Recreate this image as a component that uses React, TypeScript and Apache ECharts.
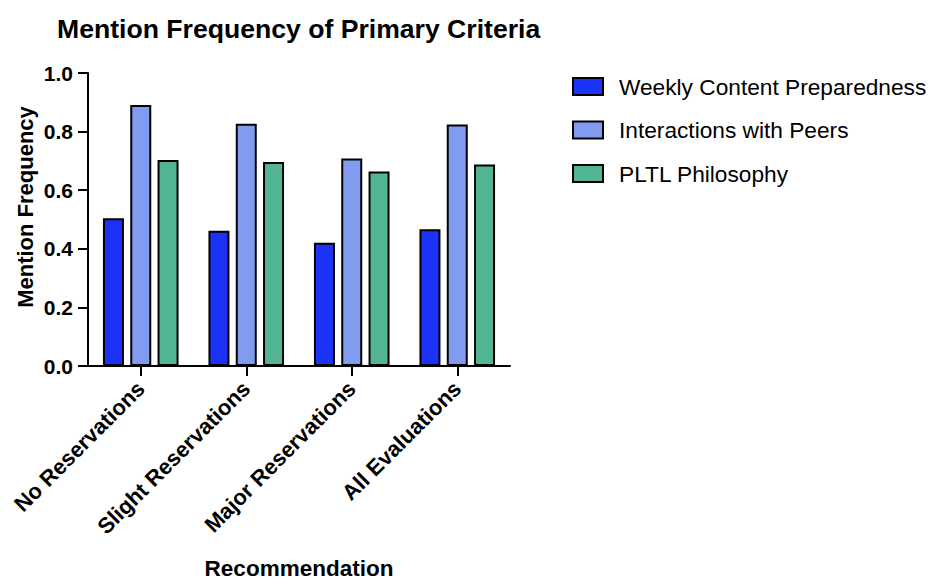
import React, { useEffect, useRef } from "react";
import * as echarts from "echarts";

const categories = ["No Reservations", "Slight Reservations", "Major Reservations", "All Evaluations"];
const seriesNames = ["Weekly Content Preparedness", "Interactions with Peers", "PLTL Philosophy"];
const weeklyContent = [0.504, 0.462, 0.421, 0.467];
const interactions = [0.891, 0.827, 0.708, 0.824];
const philosophy = [0.703, 0.696, 0.664, 0.688];
const colors = ["#1B32F7", "#819CEF", "#52B592"];
const yTicks = { min: 0, max: 1, interval: 0.2 };

const FONT = "'Liberation Sans', Arial, Helvetica, sans-serif";

export default function App() {
  const ref = useRef<HTMLDivElement>(null);
  useEffect(() => {
    if (!ref.current) return;
    const chart = echarts.init(ref.current, null, { renderer: "svg" });
    const values = [weeklyContent, interactions, philosophy];
    chart.setOption({
      animation: false,
      backgroundColor: "#ffffff",
      textStyle: { fontFamily: FONT, color: "#000" },
      title: {
        text: "Mention Frequency of Primary Criteria",
        left: 52,
        top: 10,
        textStyle: { fontFamily: FONT, fontSize: 26.6, fontWeight: "bold", color: "#000" },
      },
      legend: {
        orient: "vertical",
        left: 572,
        top: 75,
        padding: 0,
        icon: "rect",
        itemWidth: 30,
        itemHeight: 17,
        itemGap: 20.5,
        data: seriesNames,
        textStyle: { fontFamily: FONT, fontSize: 22.7, color: "#000", padding: [0, 0, 0, 11] },
      },
      graphic: [
        {
          type: "text",
          x: 25,
          y: 207,
          rotation: Math.PI / 2,
          style: {
            text: "Mention Frequency",
            font: `bold 22px ${FONT}`,
            fill: "#000",
            textAlign: "center",
            textVerticalAlign: "middle",
          },
        },
      ],
      grid: { left: 88, top: 73, width: 422, height: 295, containLabel: false },
      xAxis: {
        type: "category",
        data: categories,
        name: "Recommendation",
        nameLocation: "middle",
        nameGap: 191,
        nameTextStyle: { fontFamily: FONT, fontSize: 22.5, fontWeight: "bold", color: "#000" },
        axisLine: { show: true, lineStyle: { color: "#000", width: 2 } },
        axisTick: { show: true, alignWithLabel: true, length: 10, lineStyle: { color: "#000", width: 2 } },
        axisLabel: {
          interval: 0,
          rotate: 45,
          margin: 19,
          fontFamily: FONT,
          fontSize: 22,
          fontWeight: "bold",
          color: "#000",
        },
        splitLine: { show: false },
      },
      yAxis: {
        type: "value",
        min: yTicks.min,
        max: yTicks.max,
        interval: yTicks.interval,
        axisLine: { show: true, lineStyle: { color: "#000", width: 2 } },
        axisTick: { show: true, length: 10, lineStyle: { color: "#000", width: 2 } },
        axisLabel: {
          margin: 15,
          fontFamily: FONT,
          fontSize: 21,
          fontWeight: "bold",
          color: "#000",
          formatter: (v: number) => v.toFixed(1),
        },
        splitLine: { show: false },
      },
      series: seriesNames.map((name, i) => ({
        name,
        type: "bar",
        data: values[i],
        barWidth: 21,
        barGap: "30%",
        itemStyle: { color: colors[i], borderColor: "#000", borderWidth: 2 },
      })),
    });
    return () => chart.dispose();
  }, []);
  return (
    <div
      ref={ref}
      style={{ position: "fixed", left: 0, top: 0, width: 930, height: 585, background: "#fff" }}
    />
  );
}
